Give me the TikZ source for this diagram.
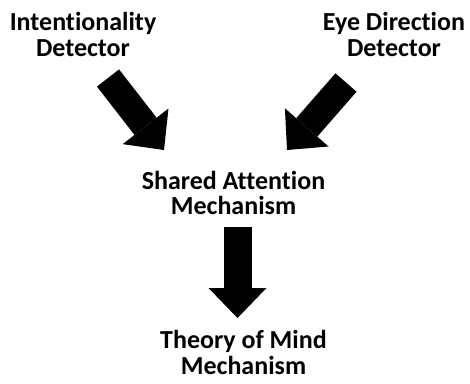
\documentclass[tikz,border=0pt]{standalone}
\usepackage{fontspec}
\setmainfont{Carlito}[Ligatures=NoCommon]
\usetikzlibrary{arrows.meta}
\begin{document}
\begin{tikzpicture}[x=1pt,y=-1pt,
  lbl/.style={font=\fontsize{26}{25.5}\selectfont\bfseries, align=center, inner sep=0pt, anchor=base},
  blockarrow/.style={line width=28pt, draw=black, -{Triangle[length=30pt,width=58pt,line width=0pt]}}]
\useasboundingbox (0,0) rectangle (470,383);
\node[lbl] (id) at (83,56) {Intentionality\\Detector};
\node[lbl] (edd) at (394,56) {Eye Direction\\Detector};
\node[lbl] (sam) at (233.5,214.5) {Shared Attention\\Mechanism};
\node[lbl] (tom) at (243.5,374) {Theory of Mind\\Mechanism};
\coordinate (a1s) at (108,78);
\coordinate (a1e) at (164,150);
\coordinate (a2s) at (346,82.5);
\coordinate (a2e) at (287,150);
\coordinate (a3s) at (237.5,227);
\coordinate (a3e) at (237.5,318);
\draw[blockarrow] (a1s) -- (a1e);
\draw[blockarrow] (a2s) -- (a2e);
\draw[blockarrow] (a3s) -- (a3e);
\end{tikzpicture}
\end{document}
